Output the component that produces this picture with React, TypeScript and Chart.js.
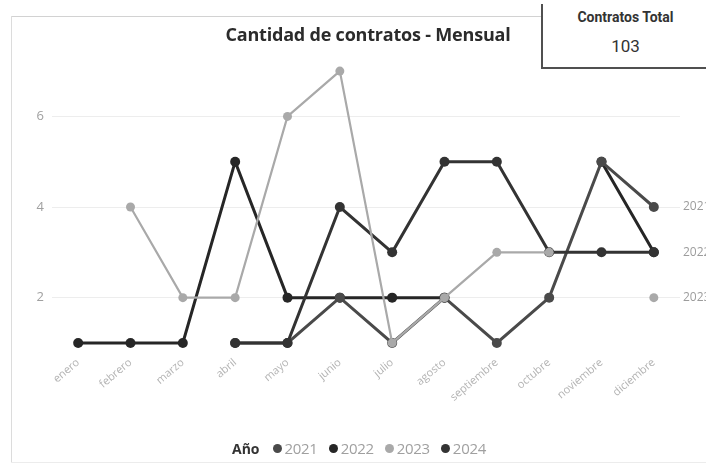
import React, { useEffect, useRef } from 'react';
import { Chart, registerables } from 'chart.js';

Chart.register(...registerables);

const months = ['enero', 'febrero', 'marzo', 'abril', 'mayo', 'junio', 'julio', 'agosto', 'septiembre', 'octubre', 'noviembre', 'diciembre'];
const years = ['2021', '2022', '2023', '2024'];
const values2021 = [null, null, null, 1, 1, 2, 1, 2, 1, 2, 5, 4];
const values2022 = [1, 1, 1, 5, 2, 2, 2, 2, null, null, 5, 3];
const values2023 = [null, 4, 2, 2, 6, 7, 1, 2, 3, 3, null, 2];
const values2024 = [null, null, null, 1, 1, 4, 3, 5, 5, 3, 3, 3];
const seriesColors = ['#4a4a4a', '#262626', '#a9a9a9', '#333333'];
const yTickValues = [2, 4, 6];
const endLabelYears = ['2021', '2022', '2023'];
const chartTitle = 'Cantidad de contratos - Mensual';
const kpiLabel = 'Contratos Total';
const kpiValue = '103';
const legendTitle = 'Año';

const FONT = '"Open Sans", "DejaVu Sans", sans-serif';

const endLabelsPlugin = {
  id: 'endLabels',
  afterDatasetsDraw(chart: any) {
    const ctx = chart.ctx;
    const x = chart.chartArea.right + 3;
    ctx.save();
    ctx.font = `12px ${FONT}`;
    ctx.fillStyle = '#9c9c9c';
    ctx.textBaseline = 'middle';
    ctx.textAlign = 'left';
    chart.data.datasets.forEach((ds: any) => {
      if (!endLabelYears.includes(ds.label)) return;
      const v = ds.data[ds.data.length - 1];
      if (v == null) return;
      ctx.fillText(ds.label, x, chart.scales.y.getPixelForValue(v));
    });
    ctx.restore();
  },
};

export default function App() {
  const canvasRef = useRef<HTMLCanvasElement | null>(null);

  useEffect(() => {
    document.body.style.margin = '0';
    const seriesValues = [values2021, values2022, values2023, values2024];
    const orders = [2, 3, 0, 1];
    const chart = new Chart(canvasRef.current as HTMLCanvasElement, {
      type: 'line',
      data: {
        labels: months,
        datasets: years.map((y, i) => ({
          label: y,
          data: seriesValues[i],
          borderColor: seriesColors[i],
          backgroundColor: seriesColors[i],
          pointBackgroundColor: seriesColors[i],
          pointBorderColor: seriesColors[i],
          borderWidth: i === 2 ? 2.2 : 3,
          pointRadius: i === 2 ? 4.5 : 5,
          pointBorderWidth: 0,
          tension: 0,
          spanGaps: false,
          order: orders[i],
        })),
      },
      options: {
        responsive: false,
        animation: false,
        layout: { padding: { top: 62, right: 26, left: 0, bottom: 0 } },
        plugins: {
          legend: { display: false },
          title: { display: false },
          tooltip: { enabled: false },
        },
        scales: {
          x: {
            type: 'category',
            offset: true,
            grid: { display: false, drawTicks: false },
            border: { display: false },
            ticks: {
              color: '#b4b4b4',
              font: { size: 11, family: FONT },
              minRotation: 40,
              maxRotation: 40,
              autoSkip: false,
              padding: 4,
            },
            afterFit: (s: any) => {
              s.height = 113;
            },
          },
          y: {
            min: 0.8,
            max: 7.2,
            grid: { color: '#ededed', lineWidth: 1, drawTicks: false },
            border: { display: false },
            ticks: {
              color: '#a0a0a0',
              font: { size: 13, family: FONT },
              padding: 8,
            },
            afterBuildTicks: (s: any) => {
              s.ticks = yTickValues.map((v) => ({ value: v }));
            },
            afterFit: (s: any) => {
              s.width = 52;
            },
          },
        },
      },
      plugins: [endLabelsPlugin],
    });
    return () => chart.destroy();
  }, []);

  return (
    <div style={{ position: 'absolute', left: 0, top: 0, width: 706, height: 465, background: '#ffffff', overflow: 'hidden', fontFamily: FONT }}>
      <div style={{ position: 'absolute', left: 11, top: 16, width: 530, height: 1, background: '#d2d2d2' }} />
      <div style={{ position: 'absolute', left: 11, top: 16, width: 1, height: 447, background: '#dcdcdc' }} />
      <div style={{ position: 'absolute', left: 11, top: 462, width: 695, height: 1, background: '#ececec' }} />
      <canvas ref={canvasRef} width={706} height={465} style={{ position: 'absolute', left: 0, top: 0 }} />
      <div style={{ position: 'absolute', left: 368, top: 23, transform: 'translateX(-50%)', whiteSpace: 'nowrap', fontSize: 18, fontWeight: 700, color: '#2b2b2b', lineHeight: '22px', letterSpacing: '-0.2px' }}>
        {chartTitle}
      </div>
      <div style={{ position: 'absolute', left: 541, top: 4, width: 165, height: 63, borderLeft: '2px solid #505050', borderBottom: '2px solid #505050', background: '#ffffff', textAlign: 'center' }}>
        <div style={{ marginTop: 5, fontSize: 14, fontWeight: 700, color: '#333', fontFamily: 'Roboto, sans-serif', lineHeight: '16px' }}>{kpiLabel}</div>
        <div style={{ marginTop: 11, fontSize: 17, color: '#333', fontFamily: 'Roboto, sans-serif', lineHeight: '20px' }}>{kpiValue}</div>
      </div>
      <div style={{ position: 'absolute', left: 232, top: 438, height: 20, display: 'flex', alignItems: 'center', whiteSpace: 'nowrap' }}>
        <span style={{ fontSize: 14, fontWeight: 700, color: '#333', marginRight: 13 }}>{legendTitle}</span>
        {years.map((y, i) => (
          <span key={y} style={{ display: 'flex', alignItems: 'center', marginRight: 11 }}>
            <span style={{ width: 9, height: 9, borderRadius: '50%', background: seriesColors[i], display: 'inline-block', marginRight: 3 }} />
            <span style={{ fontSize: 15, color: '#a0a0a0', letterSpacing: '-0.3px' }}>{y}</span>
          </span>
        ))}
      </div>
    </div>
  );
}
